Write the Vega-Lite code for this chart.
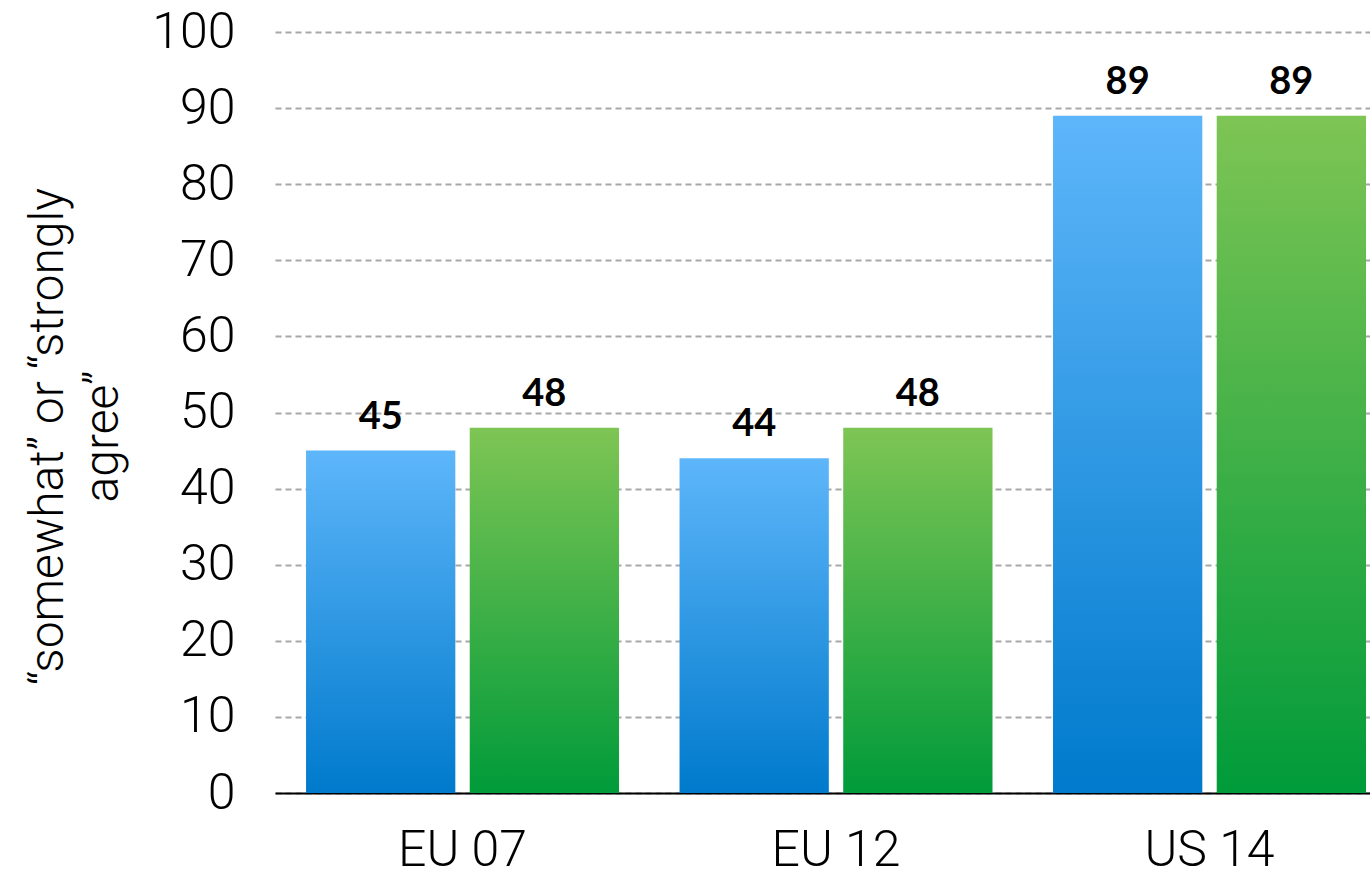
{
  "$schema": "https://vega.github.io/schema/vega-lite/v6.json",
  "width": 1095,
  "height": 761,
  "autosize": {"type": "none"},
  "padding": {"left": 275, "top": 32, "right": 0, "bottom": 85},
  "background": "white",
  "config": {"view": {"stroke": null}},
  "data": {
    "values": [
      {"group": "EU 07", "series": "A", "value": 45},
      {"group": "EU 07", "series": "B", "value": 48},
      {"group": "EU 12", "series": "A", "value": 44},
      {"group": "EU 12", "series": "B", "value": 48},
      {"group": "US 14", "series": "A", "value": 89},
      {"group": "US 14", "series": "B", "value": 89}
    ]
  },
  "encoding": {
    "x": {
      "field": "group", "type": "nominal", "sort": null,
      "scale": {"paddingInner": 0.162, "paddingOuter": 0.0469, "align": 0.886},
      "axis": {
        "title": null, "labelAngle": 0, "labelFont": "Roboto", "labelFontWeight": 300,
        "labelFontSize": 50, "labelColor": "black", "labelPadding": 32, "ticks": false,
        "domainColor": "black", "domainWidth": 2, "grid": false
      }
    },
    "xOffset": {
      "field": "series", "type": "nominal",
      "scale": {"paddingInner": 0.088, "paddingOuter": 0}
    },
    "y": {
      "field": "value", "type": "quantitative",
      "scale": {"domain": [0, 100], "nice": false},
      "axis": {
        "values": [0, 10, 20, 30, 40, 50, 60, 70, 80, 90, 100],
        "title": ["“somewhat” or “strongly", "agree”"],
        "titleFont": "Roboto", "titleFontWeight": 300, "titleFontSize": 48,
        "titleColor": "black", "titleLineHeight": 55, "titleBaseline": "alphabetic",
        "titleX": -213, "titleY": 404, "titleAngle": -90, "titleAlign": "center",
        "labelFont": "Roboto", "labelFontWeight": 300, "labelFontSize": 50,
        "labelColor": "black", "labelPadding": 40, "ticks": false, "domain": false,
        "grid": true, "gridColor": "#a8a8a8", "gridWidth": 2, "gridDash": [6, 4]
      }
    }
  },
  "layer": [
    {
      "transform": [{"filter": "datum.series === 'A'"}],
      "mark": {
        "type": "bar",
        "color": {
          "gradient": "linear", "x1": 0, "y1": 0, "x2": 0, "y2": 1,
          "stops": [{"offset": 0, "color": "#5eb6fa"}, {"offset": 1, "color": "#007acc"}]
        }
      }
    },
    {
      "transform": [{"filter": "datum.series === 'B'"}],
      "mark": {
        "type": "bar",
        "color": {
          "gradient": "linear", "x1": 0, "y1": 0, "x2": 0, "y2": 1,
          "stops": [{"offset": 0, "color": "#7ec554"}, {"offset": 1, "color": "#009b3a"}]
        }
      }
    },
    {
      "mark": {
        "type": "text", "font": "Lato", "fontWeight": "bold", "fontSize": 38,
        "color": "black", "baseline": "alphabetic", "dy": -22
      },
      "encoding": {"text": {"field": "value", "type": "quantitative"}}
    }
  ]
}
